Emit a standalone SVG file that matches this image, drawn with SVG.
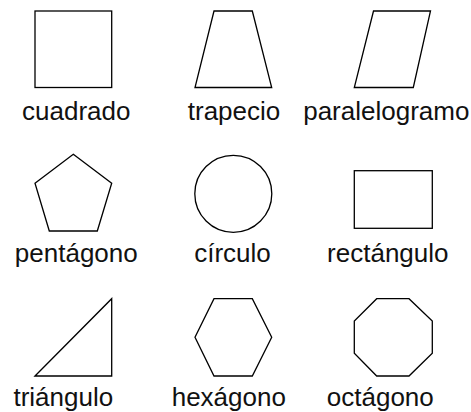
<svg xmlns="http://www.w3.org/2000/svg" width="471" height="412" viewBox="0 0 471 412">
<style>
.s{fill:none;stroke:#000;stroke-width:1.3;stroke-linejoin:miter}
.t{font-family:"Liberation Sans",Arial,sans-serif;font-size:26px;fill:#111;text-anchor:middle}
</style>
<rect width="471" height="412" fill="#fff"/>
<g id="cuadrado"><rect class="s" x="35" y="11" width="76.7" height="76.5"/><text class="t" x="76.3" y="120">cuadrado</text></g>
<g id="trapecio"><polygon class="s" points="214,11 252.3,11 271.7,87.5 195,87.5"/><text class="t" x="234" y="120">trapecio</text></g>
<g id="paralelogramo"><polygon class="s" points="373.5,11 430.5,11 413.3,87.5 354.3,87.5"/><text class="t" x="386.3" y="120">paralelogramo</text></g>
<g id="pentagono"><polygon class="s" points="73.3,154.3 111.7,183.3 97.3,231 49.3,231 35,183.3"/><text class="t" x="76.3" y="261.5">pentágono</text></g>
<g id="circulo"><circle class="s" cx="233.3" cy="193.8" r="38.5"/><text class="t" x="232.5" y="261.5">círculo</text></g>
<g id="rectangulo"><rect class="s" x="354.3" y="170.7" width="78" height="57.6"/><text class="t" x="387.8" y="261.5">rectángulo</text></g>
<g id="triangulo"><polygon class="s" points="35,376 111.7,298.7 111.7,376"/><text class="t" x="63.3" y="406">triángulo</text></g>
<g id="hexagono"><polygon class="s" points="214,298.7 252.3,298.7 271.7,337.3 252.3,376 214,376 195,337.3"/><text class="t" x="228.8" y="406">hexágono</text></g>
<g id="octagono"><polygon class="s" points="376.7,298.7 409,298.7 432.3,321 432.3,353.3 409,376 376.7,376 354.3,353.3 354.3,321"/><text class="t" x="380.3" y="406">octágono</text></g>
<g id="connectors"/>
</svg>
